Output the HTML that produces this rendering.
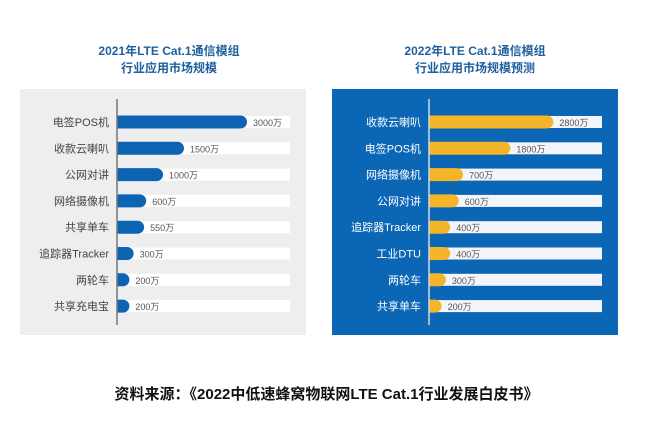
<!DOCTYPE html>
<html><head><meta charset="utf-8"><style>
body{margin:0;width:653px;height:424px;background:#fff;font-family:"Liberation Sans","Noto Sans CJK SC",sans-serif;position:relative;overflow:hidden}
.t{position:absolute;font-weight:bold;color:#1f5f9f;font-size:12px;text-align:center;line-height:17px}
.src{position:absolute;top:383px;left:0;width:653px;text-align:center;font-weight:bold;font-size:15px;color:#111}
</style></head><body>
<div class="t" style="left:20px;top:43px;width:298px">2021年LTE Cat.1通信模组<br>行业应用市场规模</div>
<div class="t" style="left:330px;top:43px;width:290px">2022年LTE Cat.1通信模组<br>行业应用市场规模预测</div>
<svg id="c" width="653" height="424" style="position:absolute;left:0;top:0"></svg>
<div class="src">资料来源：《2022中低速蜂窝物联网LTE Cat.1行业发展白皮书》</div>
<script>
const cats2021=["电签POS机","收款云喇叭","公网对讲","网络摄像机","共享单车","追踪器Tracker","两轮车","共享充电宝"];
const vals2021=[3000,1500,1000,600,550,300,200,200];
const labels2021=["3000万","1500万","1000万","600万","550万","300万","200万","200万"];
const cats2022=["收款云喇叭","电签POS机","网络摄像机","公网对讲","追踪器Tracker","工业DTU","两轮车","共享单车"];
const vals2022=[2800,1800,700,600,400,400,300,200];
const labels2022=["2800万","1800万","700万","600万","400万","400万","300万","200万"];
const svg=document.getElementById('c');const NS='http://www.w3.org/2000/svg';
function mk(t,a,p){const e=document.createElementNS(NS,t);for(const k in a)e.setAttribute(k,a[k]);(p||svg).appendChild(e);return e;}
function panel(cfg,cats,vals,labels){
  const bg=mk('rect',{x:cfg.x,y:89,width:286,height:cfg.h,fill:cfg.bg});
  
  
  const ax=cfg.x+97, trackEnd=cfg.x+270;
  const xs=v=>v*cfg.k+4;
  const yc=i=>122+i*26.3;
  cats.forEach((c,i)=>{
    const y=yc(i);
    const tr=mk('rect',{x:ax,y:y-6,width:trackEnd-ax,height:12,fill:cfg.track});
    
    
    const w=xs(vals[i]);
    const b=mk('path',{d:`M${ax},${y-6.5}H${ax+w-6.5}A6.5,6.5 0 0 1 ${ax+w-6.5},${y+6.5}H${ax}Z`,fill:cfg.bar});
    
    
    const l=mk('text',{x:ax-8,y:y+4,'text-anchor':'end','font-size':11,fill:cfg.lab});l.textContent=c;
    
    
    const v=mk('text',{x:ax+w+6,y:y+4,'font-size':9,fill:'#555'});v.textContent=labels[i];
    
    
  });
  const a=mk('line',{x1:ax,y1:99,x2:ax,y2:325,stroke:cfg.axis,'stroke-width':1.5});
  
  
}
panel({n:'left',x:20,h:246,bg:'#eeeeee',track:'#ffffff',bar:'#0d64b3',lab:'#444',axis:'#777',k:0.042},cats2021,vals2021,labels2021);
panel({n:'right',x:332,h:246,bg:'#0b66b6',track:'#f4f5fa',bar:'#f5b528',lab:'#fff',axis:'#cfd8e8',k:0.043},cats2022,vals2022,labels2022);
</script>
</body></html>
